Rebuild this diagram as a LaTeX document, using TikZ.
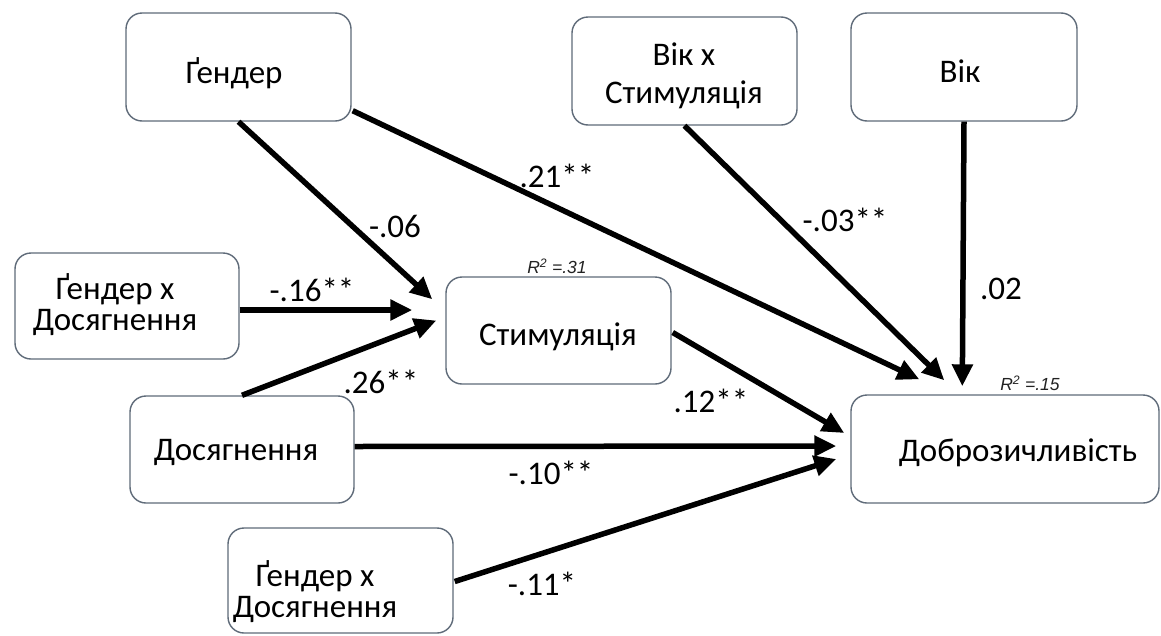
\documentclass[tikz,border=0pt]{standalone}
\usepackage{fontspec}
\setmainfont{Carlito}
\newfontfamily\rfont{Liberation Sans}
\usetikzlibrary{arrows.meta,calc}
\definecolor{boxgray}{HTML}{5F6B79}
\definecolor{rtext}{HTML}{222222}
\begin{document}
\begin{tikzpicture}[x=1pt,y=-1pt,
  box/.style={draw=boxgray, line width=1.4pt, rounded corners=16pt, fill=white, inner sep=0pt},
  txt/.style={font=\fontsize{33}{38}\selectfont, text=black, align=center, inner sep=0pt},
  txtb/.style={font=\fontsize{33}{31}\selectfont, text=black, align=center, inner sep=0pt},
  lbl/.style={font=\fontsize{33}{38}\selectfont, text=black, inner sep=0pt},
  rsq/.style={font=\rfont\itshape\fontsize{17.5}{20}\selectfont, text=rtext, inner sep=0pt},
  arr/.style={line width=5.5pt, -{Triangle[length=22pt,width=20pt]}}
]
\useasboundingbox[fill=white] (0,0) rectangle (1161,635);

% boxes
\node[box, minimum width=225pt, minimum height=108pt] (gender)  at (238.5,67) {};
\node[box, minimum width=225pt, minimum height=108pt] (vikstim) at (684.5,71) {};
\node[box, minimum width=226pt, minimum height=108pt] (vik)     at (964,67) {};
\node[box, minimum width=224pt, minimum height=106pt] (gxa1)    at (127,306) {};
\node[box, minimum width=225pt, minimum height=107pt] (stim)    at (558.5,330.5) {};
\node[box, minimum width=224pt, minimum height=107pt] (dosyag)  at (242,449.5) {};
\node[box, minimum width=308pt, minimum height=108pt] (dobro)   at (1005,449) {};
\node[box, minimum width=225pt, minimum height=105pt] (gxa2)    at (340.5,580.5) {};

% box texts
\node[txt, anchor=base] (genderT) at (234,83) {Ґендер};
\node[txt] (vikstimT) at (684,76) {Вік х\\Стимуляція};
\node[txt, anchor=base] (vikT) at (960,82) {Вік};
\node[txtb] (gxa1T) at (115,305) {Ґендер х\\Досягнення};
\node[txt, anchor=base] (stimT) at (558,345) {Стимуляція};
\node[txt, anchor=base] (dosyagT) at (236,460) {Досягнення};
\node[txt, anchor=base] (dobroT) at (1018,461) {Доброзичливість};
\node[txtb] (gxa2T) at (315,591.5) {Ґендер х\\Досягнення};

% R squared
\node[rsq] (r2stim) at (557,266) {R\textsuperscript{2} =.31};
\node[rsq] (r2dobro) at (1030,383) {R\textsuperscript{2} =.15};

% connectors
\draw[arr] (gender.south) -- ($(stim.north west)+(-13,23)$);
\draw[arr] ($(gender.south east)+(1,-11)$) -- ($(dobro.north west)+(69,-15)$);
\draw[arr] (vikstim.south) -- ($(dobro.north west)+(94,-14)$);
\draw[arr] (vik.south) -- ($(dobro.north west)+(112,-8)$);
\draw[arr] ($(gxa1.east)+(0,4)$) -- ($(stim.west)+(-33,-20.5)$);
\draw[arr] (dosyag.north) -- ($(stim.west)+(-9,-10)$);
\draw[arr] ($(stim.east)+(1,2)$) -- ($(dobro.west)+(-6,-16)$);
\draw[arr] ($(dosyag.east)+(0,-3)$) -- ($(dobro.west)+(-14,-3)$);
\draw[arr] ($(gxa2.east)+(1,1)$) -- ($(dobro.west)+(-14,10)$);

% path labels
\node[lbl] (l06) at (395,226) {-.06};
\node[lbl] (l21) at (557,176) {.21**};
\node[lbl] (l03) at (845,220) {-.03**};
\node[lbl] (l02) at (1001,289) {.02};
\node[lbl] (l16) at (312,290) {-.16**};
\node[lbl] (l26) at (381,382) {.26**};
\node[lbl] (l12) at (711,401) {.12**};
\node[lbl] (l10) at (551,473) {-.10**};
\node[lbl] (l11) at (542,584) {-.11*};
\end{tikzpicture}
\end{document}
